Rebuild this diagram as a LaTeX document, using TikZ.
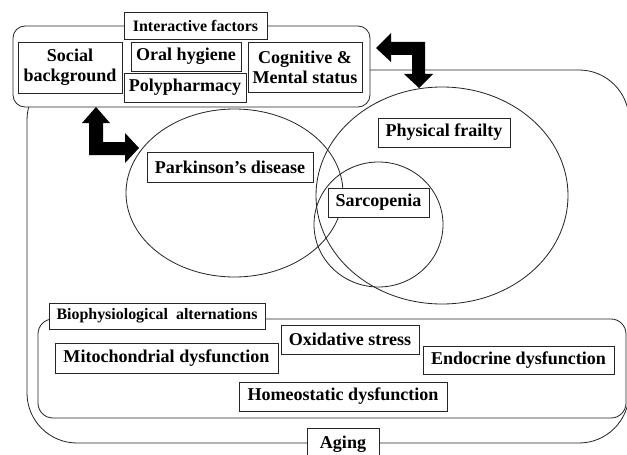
\documentclass[tikz,border=0pt]{standalone}
\usepackage{fontspec}
\setmainfont{Liberation Serif}
\usetikzlibrary{positioning}
\tikzset{
  tag/.style 2 args={rectangle,draw=black!85,fill=white,line width=0.7pt,align=center,
    minimum width=#1,minimum height=#2,inner sep=1pt,font=\fontsize{15.4}{17}\selectfont\bfseries},
  tagsm/.style 2 args={tag={#1}{#2},font=\fontsize{13.6}{15}\selectfont\bfseries},
  frame/.style={draw=black!85,line width=0.7pt,rounded corners=#1},
  ring/.style={draw=black!85,line width=0.7pt},
  fatarrow/.style={fill=black,draw=none},
}
\begin{document}
\begin{tikzpicture}[x=0.03cm,y=-0.03cm]
  \useasboundingbox (0,0) rectangle (627,454);
  % frames: aging, biophysiological, interactive
  \draw[frame=1.5cm] (27,70) rectangle (629,443);
  \draw[frame=0.45cm] (38,319) rectangle (626,418);
  \draw[frame=0.36cm,fill=white] (13,26) rectangle (370,107);
  % the three sets
  \coordinate (pdc) at (234.5,193);
  \coordinate (pfc) at (442,195.5);
  \coordinate (spc) at (378.5,224.5);
  \draw[ring] (pdc) ellipse [x radius=108.5,y radius=84];
  \draw[ring] (pfc) ellipse [x radius=126,y radius=108.5];
  \draw[ring] (spc) ellipse [x radius=64.5,y radius=62.5];
  % titles
  \node[tagsm={4.29cm}{0.81cm}] (inter) at (195.5,25.5) {Interactive factors};
  \node[tagsm={6.48cm}{0.78cm}] (bio) at (157,316) {Biophysiological\ \ alternations};
  % boxes
  \foreach \name/\x/\y/\w/\h/\txt in {
      social/70/67.5/3.12cm/1.53cm/{Social\\background},
      oral/186/56.5/3.3cm/0.87cm/{Oral hygiene},
      poly/185/87.5/3.66cm/0.87cm/{Polypharmacy},
      cogn/305/67/3.42cm/1.5cm/{Cognitive \&\\Mental status},
      pd/230/167/4.98cm/0.9cm/{Parkinson’s disease},
      frail/444/132.5/3.96cm/0.87cm/{Physical frailty},
      sarco/378.5/202.5/3.03cm/0.87cm/{Sarcopenia},
      mito/166.5/358/6.69cm/0.9cm/{Mitochondrial dysfunction},
      oxid/350/339.5/4.14cm/0.87cm/{Oxidative stress},
      endo/518.5/360/5.73cm/0.84cm/{Endocrine dysfunction},
      homeo/343/396.5/6.24cm/0.87cm/{Homeostatic dysfunction},
      aging/343/444/2.16cm/0.96cm/{Aging}}
    \node[tag={\w}{\h}] (\name) at (\x,\y) {\txt};
  % bent double arrows
  \fill[fatarrow] (96,107) -- (110,123) -- (103,123) -- (103,142) -- (125,142) -- (125,133)
    -- (139,148) -- (125,163) -- (125,155) -- (89,155) -- (89,123) -- (82,123) -- cycle;
  \fill[fatarrow] (376,48) -- (391,33) -- (391,42) -- (425,42) -- (425,74) -- (433,74)
    -- (419,88) -- (404,74) -- (412,74) -- (412,55) -- (391,55) -- (391,62) -- cycle;
\end{tikzpicture}
\end{document}
